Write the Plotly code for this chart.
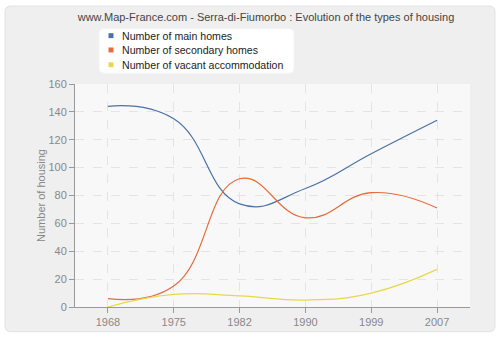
import plotly.graph_objects as go

years = ["1968", "1975", "1982", "1990", "1999", "2007"]
main_homes = [144, 135, 74, 85, 110, 134]
secondary_homes = [6, 15, 92, 64, 82, 71]
vacant = [0, 9, 8, 5, 10, 27]
y_ticks = [0, 20, 40, 60, 80, 100, 120, 140, 160]

names = ["Number of main homes", "Number of secondary homes", "Number of vacant accommodation"]
colors = ["#4a72a8", "#e8693a", "#e6d84a"]
series = [main_homes, secondary_homes, vacant]

FONT = "Liberation Sans"

fig = go.Figure()
for name, col, vals in zip(names, colors, series):
    fig.add_trace(go.Scatter(x=years, y=vals, mode="lines", name=name,
                             line=dict(color=col, width=1.2, shape="spline", smoothing=1.3),
                             showlegend=False, hoverinfo="skip"))

W, H = 500, 340
l, r, t, b = 75, 30, 84, 30
pw, ph = W - l - r, H - t - b

fig.update_layout(
    width=W, height=H,
    margin=dict(l=l, r=r, t=t, b=b),
    paper_bgcolor="white",
    plot_bgcolor="#f8f8f8",
    showlegend=False,
    font=dict(family=FONT, size=11, color="#444"),
    title=dict(text="www.Map-France.com - Serra-di-Fiumorbo : Evolution of the types of housing",
               x=266 / W, xanchor="center", y=1 - 17 / H, yanchor="middle",
               font=dict(family=FONT, size=11, color="#444")),
    xaxis=dict(type="category", range=[-0.5, 5.5], showgrid=True, gridcolor="#e4e4e4",
               griddash="dash", gridwidth=1, showline=True, linecolor="#999", linewidth=1,
               ticks="outside", ticklen=5, tickcolor="#999", tickfont=dict(color="#888", size=11),
               zeroline=False),
    yaxis=dict(range=[0, 160], tickvals=y_ticks, showgrid=True, gridcolor="#e4e4e4",
               griddash="dash", gridwidth=1, showline=True, linecolor="#999", linewidth=1,
               ticks="outside", ticklen=5, tickcolor="#999", tickfont=dict(color="#888", size=11),
               title=dict(text="Number of housing", font=dict(color="#888", size=11), standoff=0),
               zeroline=False),
)

def px(x):
    return (x - l) / pw
def py(y):
    return (H - b - y) / ph
def rrect(x0, y0, x1, y1, rad):
    return (f"M {px(x0+rad)} {py(y0)} L {px(x1-rad)} {py(y0)} Q {px(x1)} {py(y0)} {px(x1)} {py(y0+rad)} "
            f"L {px(x1)} {py(y1-rad)} Q {px(x1)} {py(y1)} {px(x1-rad)} {py(y1)} "
            f"L {px(x0+rad)} {py(y1)} Q {px(x0)} {py(y1)} {px(x0)} {py(y1-rad)} "
            f"L {px(x0)} {py(y0+rad)} Q {px(x0)} {py(y0)} {px(x0+rad)} {py(y0)} Z")

shapes = [
    dict(type="path", xref="paper", yref="paper", layer="below",
         path=rrect(5, 5, 495, 335, 6), fillcolor="#efefef", line=dict(color="#e2e2e2", width=1)),
    dict(type="path", xref="paper", yref="paper", layer="below",
         path=rrect(99, 28, 294, 73, 5), fillcolor="white", line=dict(color="#f4f4f4", width=1)),
    dict(type="rect", xref="paper", yref="paper", layer="below", x0=0, x1=1, y0=0, y1=1,
         fillcolor="#f8f8f8", line=dict(width=0)),
]
annotations = []
legend_y = [35, 49.5, 64.5]
for name, col, ly in zip(names, colors, legend_y):
    shapes.append(dict(type="rect", xref="paper", yref="paper",
                       x0=px(108.5), x1=px(113.5), y0=py(ly - 2.5), y1=py(ly + 2.5),
                       fillcolor=col, line=dict(width=0)))
    annotations.append(dict(text=name, xref="paper", yref="paper", x=px(120), y=py(ly),
                            xanchor="left", yanchor="middle", showarrow=False,
                            font=dict(family=FONT, size=10.6, color="#222")))
fig.layout.shapes = shapes
fig.layout.annotations = annotations
fig.write_html("out.html")
